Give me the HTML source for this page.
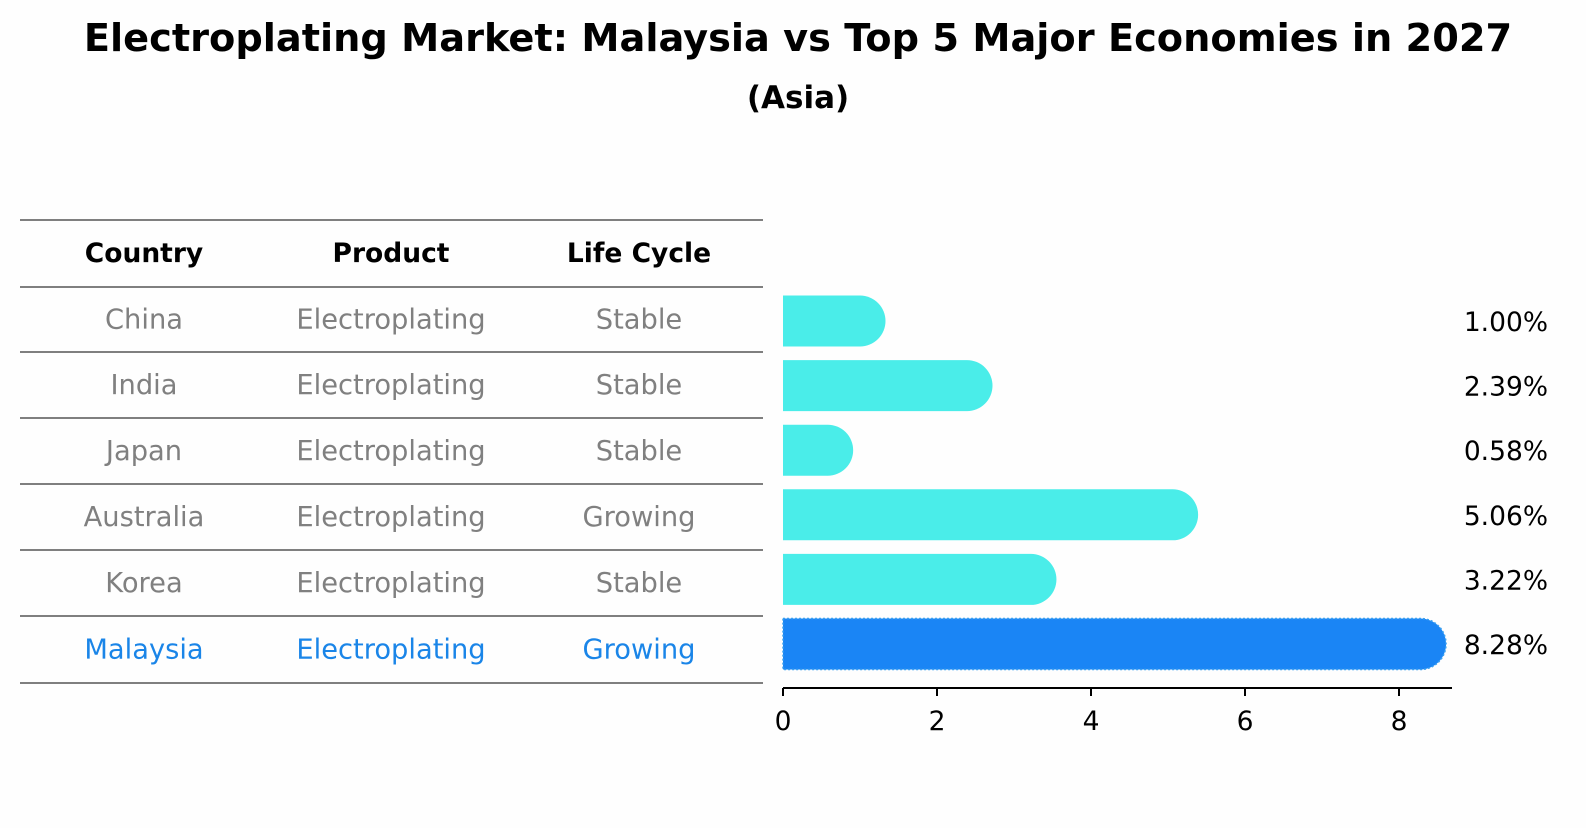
<!DOCTYPE html>
<html><head><meta charset="utf-8"><style>
body{margin:0;background:#fefefe;font-family:"Liberation Sans","DejaVu Sans",sans-serif;}
</style></head><body>
<svg width="1586" height="823" viewBox="0 0 1586 823" xmlns="http://www.w3.org/2000/svg">
<text x="798" y="51" text-anchor="middle" font-size="38.3" font-weight="bold" font-family="DejaVu Sans, sans-serif">Electroplating Market: Malaysia vs Top 5 Major Economies in 2027</text>
<text x="798" y="108" text-anchor="middle" font-size="31" font-weight="bold" font-family="DejaVu Sans, sans-serif">(Asia)</text>
<g id="table"></g>
<g id="bars"></g>
</svg>
<script>
const countries=["China","India","Japan","Australia","Korea","Malaysia"];
const products=["Electroplating","Electroplating","Electroplating","Electroplating","Electroplating","Electroplating"];
const cycles=["Stable","Stable","Stable","Growing","Stable","Growing"];
const values=[1.00,2.39,0.58,5.06,3.22,8.28];
const ticks=[0,2,4,6,8];
const NS="http://www.w3.org/2000/svg";
function mk(tag,attrs,parent){const e=document.createElementNS(NS,tag);for(const k in attrs)e.setAttribute(k,attrs[k]);parent.appendChild(e);return e;}
const tbl=document.getElementById('table');
const lines=[220,287,352,418,484,550,616,683];
lines.forEach((y,i)=>{const l=mk('line',{x1:20,x2:763,y1:y,y2:y,stroke:'#000','stroke-width':1.1},tbl);

});
const colX=[144,391,639];
["Country","Product","Life Cycle"].forEach((h,i)=>{const t=mk('text',{x:colX[i],y:262,'text-anchor':'middle','font-size':26.5,'font-weight':'bold','font-family':'DejaVu Sans, sans-serif'},tbl);t.textContent=h;

});
const rowY=i=>(lines[i+1]+lines[i+2])/2+9;
countries.forEach((c,i)=>{const col=i===countries.length-1?'#1a85e8':'#808080';
[c,products[i],cycles[i]].forEach((v,j)=>{const t=mk('text',{x:colX[j],y:rowY(i),'text-anchor':'middle','font-size':27.3,fill:col,'font-family':'DejaVu Sans, sans-serif'},tbl);t.textContent=v;

});});
const g=document.getElementById('bars');
const x0=783,scale=77;const xs=v=>x0+v*scale;
const bh=51,r=25.5;
values.forEach((v,i)=>{const cy=321+i*64.6;const last=i===values.length-1;
const xe=xs(v);
const p=mk('path',{d:`M${x0},${cy-bh/2} H${xe} A${r},${r} 0 0 1 ${xe},${cy+bh/2} H${x0} Z`,fill:last?'#1a85f5':'#4aede9'},g);
if(last){p.setAttribute('stroke','#3aa0f0');p.setAttribute('stroke-dasharray','2 2');p.setAttribute('stroke-width','1.5');}


const t=mk('text',{x:1548,y:cy+10,'text-anchor':'end','font-size':26.5,'font-family':'DejaVu Sans, sans-serif'},g);t.textContent=v.toFixed(2)+'%';

});
const ax=mk('line',{x1:x0,x2:1452,y1:688,y2:688,stroke:'#000','stroke-width':2},g);


ticks.forEach(tv=>{const tk=mk('line',{x1:xs(tv),x2:xs(tv),y1:688,y2:696,stroke:'#000','stroke-width':2},g);


const t=mk('text',{x:xs(tv),y:730,'text-anchor':'middle','font-size':26.5,'font-family':'DejaVu Sans, sans-serif'},g);t.textContent=tv;

});
</script>
</body></html>
